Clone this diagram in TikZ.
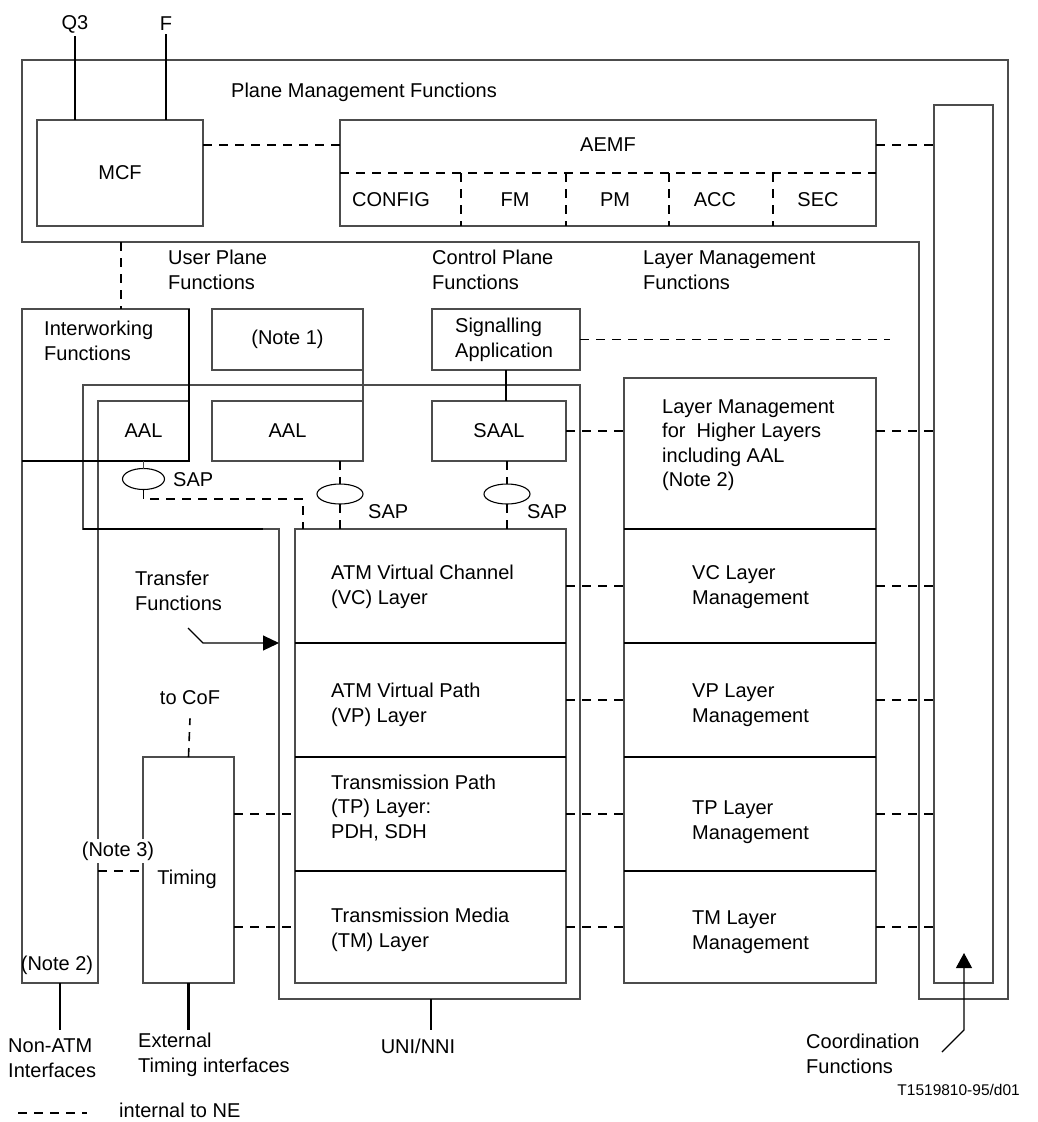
\documentclass[tikz,border=0pt]{standalone}
\usepackage{fontspec}
\setmainfont{Liberation Sans}
\usetikzlibrary{arrows.meta,shapes.geometric}
\definecolor{edge}{gray}{0.3}
\tikzset{
	box/.style={draw=edge,line width=1.1pt,inner sep=0pt,outer sep=0pt},
	heavy/.style={draw=black,line width=2.2pt},
	intl/.style={draw=black,line width=1.6pt,dash pattern=on 9pt off 7pt},
	txt/.style={inner sep=0pt,align=left,anchor=west},
	sap/.style={draw=black,ellipse,line width=1.1pt,inner sep=0pt,outer sep=0pt},
	pointer/.style={draw=black,line width=1.1pt},
}
\begin{document}
\begin{tikzpicture}[x=1pt,y=-1pt,font=\fontsize{20}{24.5}\selectfont]
	\useasboundingbox (0,0) rectangle (1037,1122);
	\draw[box] (22,60) -- (1008,60) -- (1008,999) -- (919,999) -- (919,242) -- (22,242) -- cycle;
	\node[txt] at (231,92) {Plane Management Functions};
	\node[box,minimum width=166,minimum height=106] (mcf) at (120,173) {MCF};
	\node (q3) at (75,24) {Q3};
	\node (f) at (166,24) {F};
	\draw[heavy] (q3.south) -- (q3.south |- mcf.north);
	\draw[heavy] (f.south) -- (f.south |- mcf.north);
	\node[box,minimum width=536,minimum height=106] (aemf) at (608,173) {};
	\node (aemfhd) at (608,145) {AEMF};
	\draw[intl] (aemf.west) -- (aemf.east);
	\foreach \x in {461,566,669,773}
	\draw[intl] (\x,173) -- (\x,226);
	\foreach \x/\t in {391/CONFIG,515/FM,615/PM,715/ACC,818/SEC}
	\node at (\x,200) {\t};
	\node[box,minimum width=59,minimum height=878] (coord) at (963.5,544) {};
	\draw[intl] (mcf.east |- aemfhd) -- (aemf.west |- aemfhd);
	\draw[intl] (aemf.east |- aemfhd) -- (coord.west |- aemfhd);
	\node[txt] at (168,270) {User Plane\\Functions};
	\node[txt] at (432,270) {Control Plane\\Functions};
	\node[txt] at (643,270) {Layer Management\\Functions};
	\node[box,minimum width=167,minimum height=152] (iwf) at (105.5,385) {};
	\node[txt] at (44,341) {Interworking\\Functions};
	\node[box,minimum width=151,minimum height=61] (note1) at (287.5,339.5) {(Note 1)};
	\node[box,minimum width=91,minimum height=60] (aal1) at (143.5,431) {AAL};
	\node[box,minimum width=151,minimum height=60] (aal2) at (287.5,431) {AAL};
	\draw[box] (note1.south east) -- (aal2.north east);
	\node[box,minimum width=76,minimum height=522] (natif) at (60,722) {};
	\node at (57,965) {(Note 2)};
	\draw[box] (83,385) -- (580,385) -- (580,999) -- (279,999) -- (279,529) -- (83,529) -- cycle;
	\draw[heavy] (83,529) -- (263,529);
	\draw[heavy] (iwf.north east) -- (iwf.south east) -- (iwf.south west);
	\coordinate (pmb) at (121,242);
	\draw[intl] (pmb) -- (pmb |- iwf.north);
	\node[box,minimum width=148,minimum height=61] (sig) at (506,339.5) {};
	\node[txt] at (455,340) {Signalling\\Application};
	\node[box,minimum width=134,minimum height=60] (saal) at (499,431) {SAAL};
	\draw[heavy] (sig.south) -- (sig.south |- saal.north);
	\coordinate (sigend) at (890,337);
	\draw[intl] (sig.east) -- (sig.east -| sigend);
	\node[box,minimum width=271,minimum height=114] (vc) at (430.5,586) {};
	\node[box,minimum width=271,minimum height=114] (vp) at (430.5,700) {};
	\node[box,minimum width=271,minimum height=114] (tp) at (430.5,814) {};
	\node[box,minimum width=271,minimum height=112] (tm) at (430.5,927) {};
	\node[txt] at (331,587) {ATM Virtual Channel\\(VC) Layer};
	\node[txt] at (331,705) {ATM Virtual Path\\(VP) Layer};
	\node[txt] at (331,808) {Transmission Path\\(TP) Layer:\\PDH, SDH};
	\node[txt] at (331,930) {Transmission Media\\(TM) Layer};
	\node[box,minimum width=252,minimum height=151] (hlm) at (750,453.5) {};
	\node[box,minimum width=252,minimum height=114] (vcm) at (750,586) {};
	\node[box,minimum width=252,minimum height=114] (vpm) at (750,700) {};
	\node[box,minimum width=252,minimum height=114] (tpm) at (750,814) {};
	\node[box,minimum width=252,minimum height=112] (tmm) at (750,927) {};
	\node[txt] at (662,445) {Layer Management\\for~ Higher Layers\\including AAL\\(Note 2)};
	\node[txt] at (692,587) {VC Layer\\Management};
	\node[txt] at (692,705) {VP Layer\\Management};
	\node[txt] at (692,822) {TP Layer\\Management};
	\node[txt] at (692,932) {TM Layer\\Management};
	\foreach \n in {vc,vp,tp,hlm,vcm,vpm,tpm}
	\draw[heavy] (\n.south west) -- (\n.south east);
	\draw[intl] (saal.east) -- (hlm.west |- saal.east);
	\draw[intl] (hlm.east |- saal.east) -- (coord.west |- saal.east);
	\foreach \a/\b in {vc/vcm,vp/vpm,tp/tpm,tm/tmm}
	{\draw[intl] (\a.east) -- (\b.west);
	\draw[intl] (\b.east) -- (\b.east -| coord.west);}
	\node[box,minimum width=91,minimum height=226] (timing) at (188.5,870) {};
	\node at (187,879) {Timing};
	\node[inner xsep=0pt,inner ysep=13pt] (cof) at (190,698) {to CoF};
	\draw[intl] (timing.north) -- (cof.south);
	\draw[intl] (tp.west -| timing.east) -- (tp.west);
	\draw[intl] (tm.west -| timing.east) -- (tm.west);
	\node[fill=white,inner xsep=1pt,inner ysep=3pt] (n3) at (118,851) {(Note 3)};
	\coordinate (n3a) at (98,871);
	\draw[intl] (n3a) -- (n3a -| timing.west);
	\node[txt] (tf) at (135,591) {Transfer\\Functions};
	\coordinate (tfa) at (188,628);
	\coordinate (tfb) at (279,643);
	\draw[pointer,-{Triangle[length=16pt,width=15pt]}] (tfa) -- ++(15,15) -- (tfb);
	\node[sap,minimum width=42,minimum height=21] (sap1) at (143.5,479) {};
	\node[sap,minimum width=46,minimum height=20] (sap2) at (340,494) {};
	\node[sap,minimum width=46,minimum height=20] (sap3) at (507,494) {};
	\draw[box] (aal1.south) -- (sap1.north);
	\coordinate (sapj) at (303,499);
	\draw[intl] (sap1.south) |- (sapj) -- (sapj |- vc.north);
	\node[txt] at (173,480) {SAP};
	\draw[intl] (sap2 |- aal2.south) -- (sap2.north);
	\draw[intl] (sap2.south) -- (sap2 |- vc.north);
	\node[txt] at (368,512) {SAP};
	\draw[intl] (sap3 |- saal.south) -- (sap3.north);
	\draw[intl] (sap3.south) -- (sap3 |- vc.north);
	\node[txt] at (527,512) {SAP};
	\coordinate (natb) at (60,1030);
	\draw[heavy] (natif.south) -- (natb);
	\node[txt] at (8,1058) {Non-ATM\\Interfaces};
	\draw[heavy] (timing.south) -- (timing.south |- natb);
	\node[txt] at (138,1055) {External\\Timing interfaces};
	\coordinate (uni) at (431,999);
	\draw[heavy] (uni) -- (uni |- natb);
	\node at (418,1046) {UNI/NNI};
	\coordinate (cfa) at (942,1052);
	\coordinate (cfb) at (964,953);
	\draw[pointer,-{Triangle[length=15pt,width=16pt]}] (cfa) -- ++(22,-22) -- (cfb);
	\node[txt] at (806,1054) {Coordination\\Functions};
	\node[anchor=east,inner sep=0pt,font=\fontsize{15.5}{18}\selectfont] at (1020,1090) {T1519810-95/d01};
	\coordinate (leg) at (18,1113);
	\draw[intl] (leg) -- ++(69,0);
	\node[txt] (legtxt) at (119,1110) {internal to NE};
\end{tikzpicture}
\end{document}
